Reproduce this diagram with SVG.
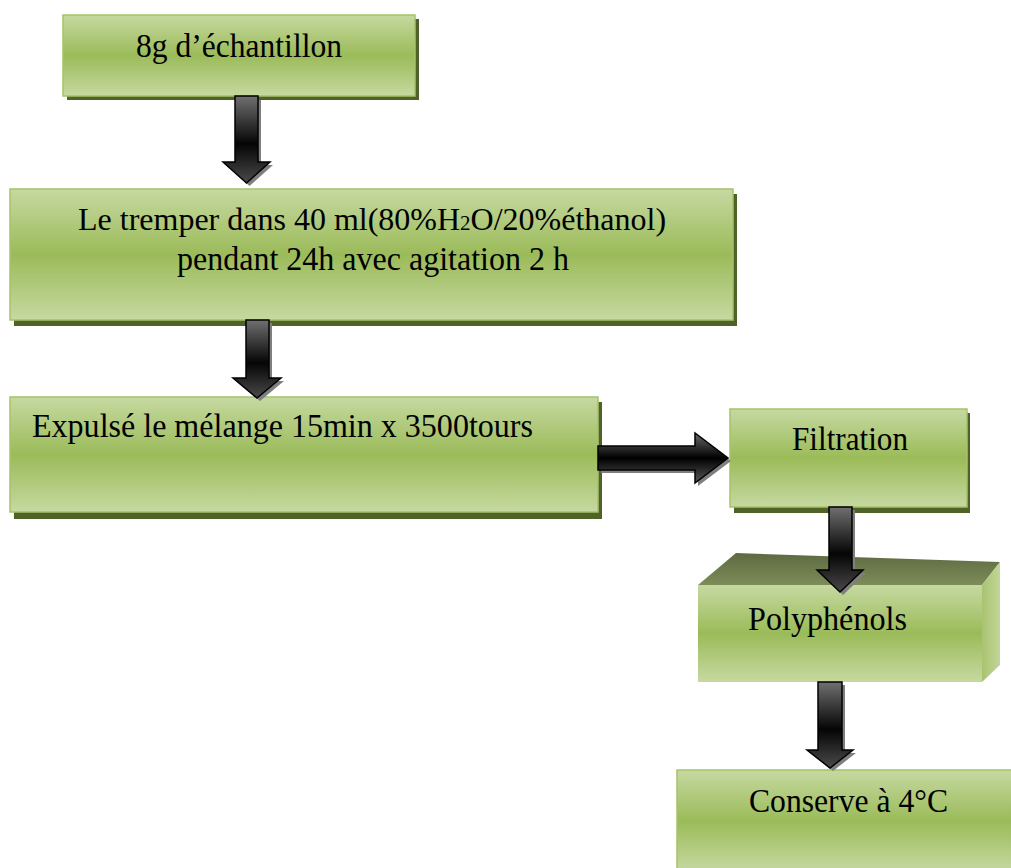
<svg xmlns="http://www.w3.org/2000/svg" width="1011" height="868" viewBox="0 0 1011 868">
<defs>
<linearGradient id="gBox" x1="0" y1="0" x2="0" y2="1">
<stop offset="0" stop-color="#c6d9a1"/>
<stop offset="0.5" stop-color="#9bbb59"/>
<stop offset="1" stop-color="#c6d9a1"/>
</linearGradient>
<linearGradient id="gTop" x1="0" y1="0" x2="0" y2="1">
<stop offset="0" stop-color="#5d6a42"/>
<stop offset="1" stop-color="#7d8c58"/>
</linearGradient>
<linearGradient id="gSide" x1="0" y1="0" x2="1" y2="0">
<stop offset="0" stop-color="#a9c36f"/>
<stop offset="1" stop-color="#c2d59a"/>
</linearGradient>
<linearGradient id="gArrV" x1="0" y1="0" x2="0" y2="1">
<stop offset="0" stop-color="#707070"/>
<stop offset="0.55" stop-color="#050505"/>
<stop offset="1" stop-color="#4a4a4a"/>
</linearGradient>
<linearGradient id="gArrH" x1="0" y1="0" x2="0" y2="1">
<stop offset="0" stop-color="#6a6a6a"/>
<stop offset="0.5" stop-color="#000"/>
<stop offset="1" stop-color="#5a5a5a"/>
</linearGradient>
</defs>
<style>
.shadow{fill:#4f6228}
.box{fill:url(#gBox);stroke:#a7c26a;stroke-width:1.5}
.txt{font-family:"Liberation Serif","Times New Roman",serif;font-size:33px;fill:#000}
.arr{fill:url(#gArrV);stroke:#000;stroke-width:1.5;stroke-linejoin:miter}
.arrh{fill:url(#gArrH);stroke:#000;stroke-width:1.5}
.ash{fill:#7f7f7f}
</style>

<g id="node1">
<rect class="shadow" x="67" y="19" width="352" height="81"/>
<rect class="box" x="63" y="15" width="352" height="81"/>
<text class="txt" x="136" y="57" textLength="206" lengthAdjust="spacingAndGlyphs">8g d’échantillon</text>
</g>

<g id="node2">
<rect class="shadow" x="14" y="194" width="723" height="132"/>
<rect class="box" x="10" y="189" width="723" height="131"/>
<text class="txt" x="78" y="230" style="font-size:32px">Le tremper dans 40 ml(80%H<tspan style="font-size:21px">2</tspan>O/20%éthanol)</text>
<text class="txt" x="177" y="270" textLength="392" lengthAdjust="spacingAndGlyphs">pendant 24h avec agitation 2 h</text>
</g>

<g id="node3">
<rect class="shadow" x="14" y="402" width="588" height="117"/>
<rect class="box" x="10" y="397" width="588" height="115"/>
<text class="txt" x="32" y="437" textLength="501" lengthAdjust="spacingAndGlyphs">Expulsé le mélange 15min x 3500tours</text>
</g>

<g id="node4">
<rect class="shadow" x="734" y="413" width="236" height="100"/>
<rect class="box" x="730" y="409" width="237" height="98"/>
<text class="txt" x="792" y="450" textLength="116" lengthAdjust="spacingAndGlyphs">Filtration</text>
</g>

<g id="node5">
<polygon points="698,585 736,553 1000,562 982,585" fill="url(#gTop)"/>
<polygon points="982,585 1000,562 1000,665 982,682" fill="url(#gSide)"/>
<rect x="698" y="585" width="284" height="97" fill="url(#gBox)"/>
<text class="txt" x="748" y="630" textLength="159" lengthAdjust="spacingAndGlyphs">Polyphénols</text>
</g>

<g id="node6">
<rect class="box" x="677" y="770" width="340" height="102"/>
<text class="txt" x="749" y="812" textLength="199" lengthAdjust="spacingAndGlyphs">Conserve à 4°C</text>
</g>

<g id="connectors">
<path class="ash" d="M238,100 H261 V165 H273 L249.5,186 L226,165 H238 Z"/>
<path class="arr" d="M235,96 H258 V162 H270 L246.5,183 L223,162 H235 Z"/>

<path class="ash" d="M249,323 H272 V381 H284 L260,401 L236,381 H249 Z"/>
<path class="arr" d="M246,320 H269 V378 H281 L257,398 L233,378 H246 Z"/>

<path class="ash" d="M601,449 H698 V436 L731,461 L698,486 V473 H601 Z"/>
<path class="arrh" d="M598,446 H695 V433 L728,458 L695,483 V470 H598 Z"/>

<path class="ash" d="M832,510 H855 V573 H866 L843,595 L820,573 H832 Z"/>
<path class="arr" d="M829,507 H852 V570 H863 L840,592 L817,570 H829 Z"/>

<path class="ash" d="M821,685 H845 V753 H856 L833,771 L810,753 H821 Z"/>
<path class="arr" d="M818,682 H842 V750 H853 L830,768 L807,750 H818 Z"/>
</g>
</svg>
